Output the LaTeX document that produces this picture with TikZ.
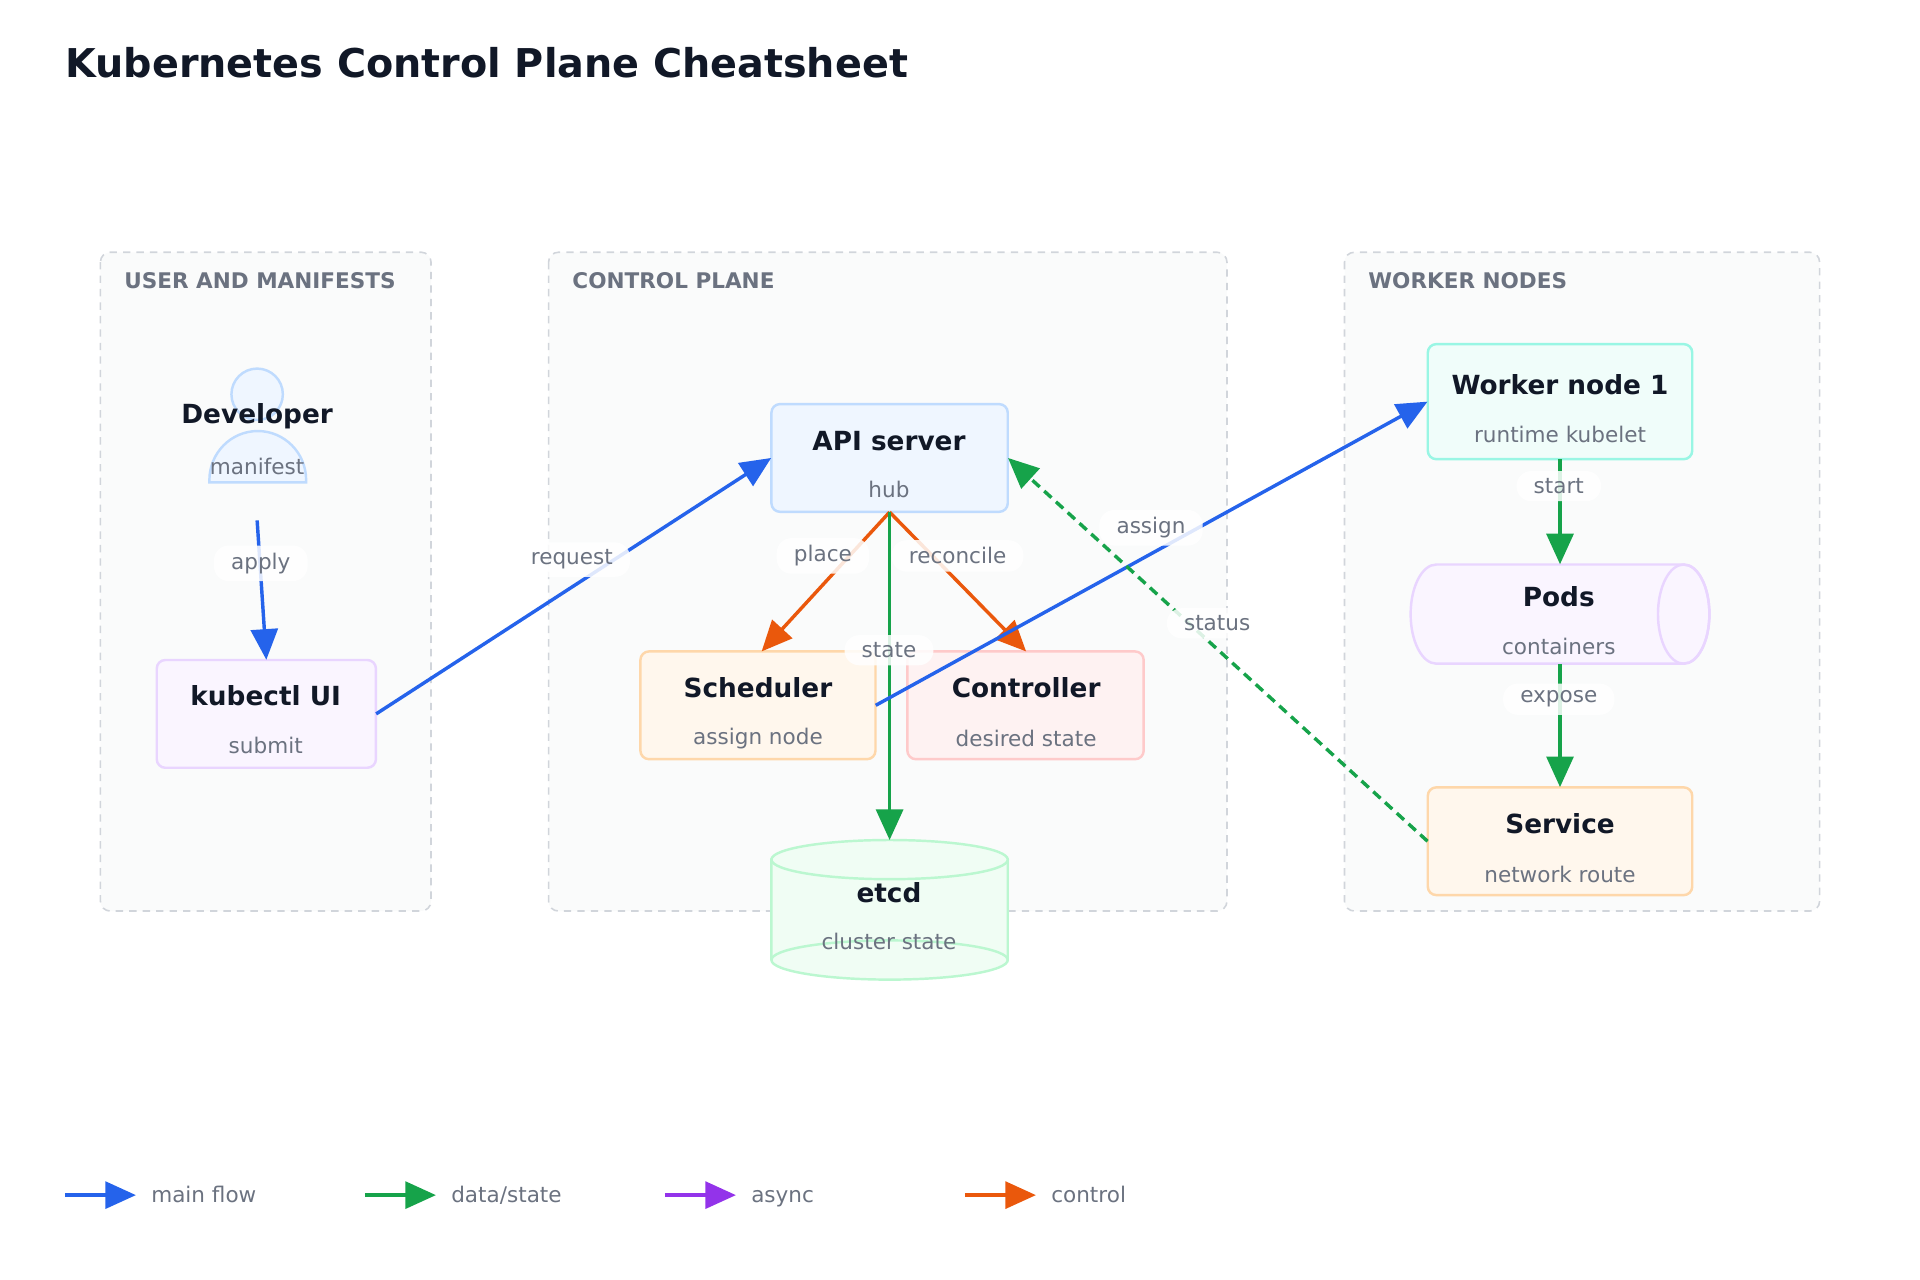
\documentclass[tikz,border=0pt]{standalone}
\usepackage{fontspec}
\setmainfont{DejaVu Sans}
\usetikzlibrary{arrows.meta,shapes.geometric}
\definecolor{cblue}{HTML}{2563EB}
\definecolor{cgreen}{HTML}{16A34A}
\definecolor{cpurple}{HTML}{9333EA}
\definecolor{corange}{HTML}{EA580C}
\definecolor{ctext}{HTML}{111827}
\definecolor{csub}{HTML}{6B7280}
\definecolor{cgrp}{HTML}{D1D5DB}
\definecolor{cgfill}{HTML}{FAFBFB}
\definecolor{bfill}{HTML}{EFF6FF}\definecolor{bdraw}{HTML}{BFDBFE}
\definecolor{pfill}{HTML}{FAF5FF}\definecolor{pdraw}{HTML}{E9D5FF}
\definecolor{ofill}{HTML}{FFF7ED}\definecolor{odraw}{HTML}{FED7AA}
\definecolor{rfill}{HTML}{FEF2F2}\definecolor{rdraw}{HTML}{FECACA}
\definecolor{gfill}{HTML}{F0FDF4}\definecolor{gdraw}{HTML}{BBF7D0}
\definecolor{tfill}{HTML}{F0FDFA}\definecolor{tdraw}{HTML}{99F6E4}
\begin{document}
\begin{tikzpicture}[x=1pt,y=-1pt,
 grp/.style={draw=cgrp,line width=1.3pt,fill=cgfill,rounded corners=8pt,dash pattern=on 6pt off 5pt},
 glab/.style={anchor=west,font=\bfseries\fontsize{17.6}{20}\selectfont,text=csub},
 box/.style={rounded corners=7pt,line width=2pt},
 ttl/.style={font=\bfseries\fontsize{21.5}{24}\selectfont,text=ctext},
 sub/.style={font=\fontsize{17.6}{20}\selectfont,text=csub},
 arr/.style={line width=2.8pt,-{Triangle[length=25pt,width=22pt]}},
 lab/.style={fill=white,fill opacity=0.85,text opacity=1,rounded corners=12pt,inner xsep=14pt,inner ysep=6pt,font=\fontsize{17.6}{20}\selectfont,text=csub}]
\useasboundingbox (0,0) rectangle (1568,1045);
\node[anchor=west,font=\bfseries\fontsize{32.4}{36}\selectfont,text=ctext] (title) at (50,51) {Kubernetes Control Plane Cheatsheet};
% groups
\draw[grp] (82,206) rectangle (352,744);
\draw[grp] (448,206) rectangle (1002,744);
\draw[grp] (1098,206) rectangle (1486,744);
\node[glab] (g1) at (98,229) {USER AND MANIFESTS};
\node[glab] (g2) at (464,229) {CONTROL PLANE};
\node[glab] (g3) at (1114,229) {WORKER NODES};
% developer
\fill[bfill,draw=bdraw,line width=2pt] (171,394) -- (171,392) arc[x radius=39.5,y radius=40,start angle=180,end angle=360] -- (250,394) -- cycle;
\draw[bdraw,fill=bfill,line width=2pt] (210,322) circle (21);
\node[ttl] (dev) at (210,340) {Developer};
\node[sub] (devs) at (210,381) {manifest};
\coordinate (devb) at (210,425);
% boxes
\draw[box,draw=pdraw,fill=pfill] (128,539) rectangle (307,627);
\node[ttl] at (217,568) {kubectl UI}; \node[sub] at (217,609) {submit};
\node (kub) at (217.5,583) [minimum width=179pt,minimum height=88pt] {};
\draw[box,draw=bdraw,fill=bfill] (630,330) rectangle (823,418);
\node[ttl] at (726,360) {API server}; \node[sub] at (726,400) {hub};
\node (api) at (726.5,374) [minimum width=193pt,minimum height=88pt] {};
\draw[box,draw=odraw,fill=ofill] (523,532) rectangle (715,620);
\node[ttl] at (619,562) {Scheduler}; \node[sub] at (619,603) {assign node};
\node (sch) at (619,576) [minimum width=192pt,minimum height=88pt] {};
\draw[box,draw=rdraw,fill=rfill] (741,532) rectangle (934,620);
\node[ttl] at (838,562) {Controller}; \node[sub] at (838,603) {desired state};
\node (ctl) at (837.5,576) [minimum width=193pt,minimum height=88pt] {};
% etcd
\draw[line width=2pt,draw=gdraw,fill=gfill] (630,702) -- (630,784) arc[x radius=96.5,y radius=16,start angle=180,end angle=0] -- (823,702) -- cycle;
\draw[line width=2pt,draw=gdraw,fill=gfill] (726.5,702) ellipse[x radius=96.5,y radius=16];
\draw[line width=2pt,draw=gdraw] (630,784) arc[x radius=96.5,y radius=16,start angle=180,end angle=360];
\node[ttl] at (726,729) {etcd}; \node[sub] at (726,769) {cluster state};
\coordinate (etcdt) at (726.5,686);
% worker
\draw[box,draw=tdraw,fill=tfill] (1166,281) rectangle (1382,375);
\node[ttl] at (1274,314) {Worker node 1}; \node[sub] at (1274,355) {runtime kubelet};
\node (wrk) at (1274,328) [minimum width=216pt,minimum height=94pt] {};
% pods
\draw[line width=2pt,draw=pdraw,fill=pfill] (1375,461) -- (1173,461) arc[x radius=21,y radius=40.5,start angle=270,end angle=90] -- (1375,542) arc[x radius=21,y radius=40.5,start angle=90,end angle=-90];
\draw[line width=2pt,draw=pdraw] (1375,501.5) ellipse[x radius=21,y radius=40.5];
\node[ttl] at (1273,487) {Pods}; \node[sub] at (1273,528) {containers};
\node (pods) at (1274,501.5) [minimum width=200pt,minimum height=81pt] {};
\draw[box,draw=odraw,fill=ofill] (1166,643) rectangle (1382,731);
\node[ttl] at (1274,673) {Service}; \node[sub] at (1274,714) {network route};
\node (svc) at (1274,687) [minimum width=216pt,minimum height=88pt] {};
% edges
\draw[arr,cblue] (devb) -- (kub.north);
\draw[arr,cblue] (kub.east) -- (api.west);
\draw[arr,corange] (api.south) -- (622,532);
\draw[arr,corange] (api.south) -- (838,532);
\draw[arr,cgreen] (api.south) -- (etcdt);
\draw[arr,cblue] (sch.east) -- (wrk.west);
\draw[arr,cgreen,dash pattern=on 8pt off 5pt] (svc.west) -- (api.east);
\draw[arr,cgreen] (wrk.south) -- (pods.north);
\draw[arr,cgreen] (pods.south) -- (svc.north);
\node[lab] (l-apply) at (213,460) {apply};
\node[lab] (l-req) at (467,457) {request};
\node[lab] (l-place) at (672,454) {place};
\node[lab] (l-rec) at (782,454) {reconcile};
\node[lab] (l-state) at (726,531) {state};
\node[lab] (l-assign) at (940,431) {assign};
\node[lab] (l-status) at (994,509) {status};
\node[lab] (l-start) at (1273,397) {start};
\node[lab] (l-expose) at (1273,571) {expose};
% legend
\foreach \x/\c/\t/\n in {53/cblue/main flow/l1,298/cgreen/data\slash state/l2,543/cpurple/async/l3,788/corange/control/l4}{
 \coordinate (\n a) at (\x,976); \coordinate (\n b) at (\x+58,976);
 \draw[arr,\c] (\n a) -- (\n b);
 \node[anchor=base west,font=\fontsize{17.6}{20}\selectfont,text=csub] (\n t) at (\x+67,982) {\t};
}
\end{tikzpicture}
\end{document}
